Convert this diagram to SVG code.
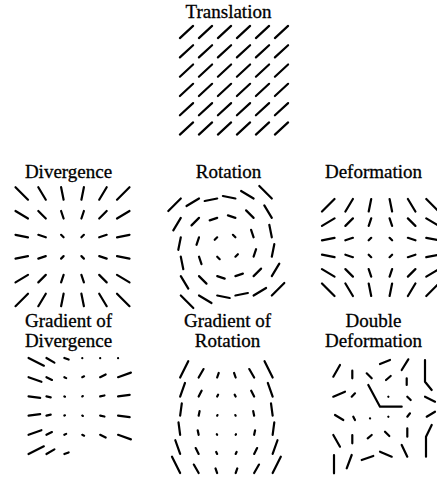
<svg xmlns="http://www.w3.org/2000/svg" width="437" height="477" viewBox="0 0 437 477">
<style>
text{font-family:"Liberation Serif","Times New Roman",serif;font-size:19px;fill:#000;stroke:#000;stroke-width:0.3;text-anchor:middle}
.f{fill:none;stroke:#000;stroke-width:2.2;stroke-linecap:round;stroke-linejoin:round}
</style>
<defs><path id="t" d="M-6.6,6.1L6.6,-6.1"/></defs>
<rect width="437" height="477" fill="#fff"/>
<g id="translation">
<text x="228.5" y="18">Translation</text>
<g class="f">
<use href="#t" x="186.5" y="32"/><use href="#t" x="205.5" y="32"/><use href="#t" x="224.5" y="32"/><use href="#t" x="243.5" y="32"/><use href="#t" x="262.5" y="32"/><use href="#t" x="281.5" y="32"/>
<use href="#t" x="186.5" y="51.3"/><use href="#t" x="205.5" y="51.3"/><use href="#t" x="224.5" y="51.3"/><use href="#t" x="243.5" y="51.3"/><use href="#t" x="262.5" y="51.3"/><use href="#t" x="281.5" y="51.3"/>
<use href="#t" x="186.5" y="70.6"/><use href="#t" x="205.5" y="70.6"/><use href="#t" x="224.5" y="70.6"/><use href="#t" x="243.5" y="70.6"/><use href="#t" x="262.5" y="70.6"/><use href="#t" x="281.5" y="70.6"/>
<use href="#t" x="186.5" y="89.9"/><use href="#t" x="205.5" y="89.9"/><use href="#t" x="224.5" y="89.9"/><use href="#t" x="243.5" y="89.9"/><use href="#t" x="262.5" y="89.9"/><use href="#t" x="281.5" y="89.9"/>
<use href="#t" x="186.5" y="109.2"/><use href="#t" x="205.5" y="109.2"/><use href="#t" x="224.5" y="109.2"/><use href="#t" x="243.5" y="109.2"/><use href="#t" x="262.5" y="109.2"/><use href="#t" x="281.5" y="109.2"/>
<use href="#t" x="186.5" y="128.5"/><use href="#t" x="205.5" y="128.5"/><use href="#t" x="224.5" y="128.5"/><use href="#t" x="243.5" y="128.5"/><use href="#t" x="262.5" y="128.5"/><use href="#t" x="281.5" y="128.5"/>
</g>
</g>
<g id="divergence">
<text x="68.5" y="177.5">Divergence</text>
<path class="f" d="M28,199.7L15.5,187.2M45.8,199.7L38.3,187.2M63.6,199.7L61.1,187.2M81.4,199.7L83.9,187.2M99.2,199.7L106.7,187.2M117,199.7L129.5,187.2
M28,218.5L15.5,211M45.8,218.5L38.3,211M63.6,218.5L61.1,211M81.4,218.5L83.9,211M99.2,218.5L106.7,211M117,218.5L129.5,211
M28,237.3L15.5,234.8M45.8,237.3L38.3,234.8M63.6,237.3L61.1,234.8M81.4,237.3L83.9,234.8M99.2,237.3L106.7,234.8M117,237.3L129.5,234.8
M28,256.1L15.5,258.6M45.8,256.1L38.3,258.6M63.6,256.1L61.1,258.6M81.4,256.1L83.9,258.6M99.2,256.1L106.7,258.6M117,256.1L129.5,258.6
M28,274.9L15.5,282.4M45.8,274.9L38.3,282.4M63.6,274.9L61.1,282.4M81.4,274.9L83.9,282.4M99.2,274.9L106.7,282.4M117,274.9L129.5,282.4
M28,293.7L15.5,306.2M45.8,293.7L38.3,306.2M63.6,293.7L61.1,306.2M81.4,293.7L83.9,306.2M99.2,293.7L106.7,306.2M117,293.7L129.5,306.2"/>
</g>
<g id="rotation">
<text x="228.5" y="177.5">Rotation</text>
<path class="f" d="M180.8,198.5L168.3,211M199,198.5L186.5,206M217.2,198.5L204.7,201M235.4,198.5L222.9,196M253.6,198.5L241.1,191M271.8,198.5L259.3,186
M180.8,217.9L173.3,230.4M199,217.9L191.5,225.4M217.2,217.9L209.7,220.4M235.4,217.9L227.9,215.4M253.6,217.9L246.1,210.4M271.8,217.9L264.3,205.4
M180.8,237.3L178.3,249.8M199,237.3L196.5,244.8M217.2,237.3L214.7,239.8M235.4,237.3L232.9,234.8M253.6,237.3L251.1,229.8M271.8,237.3L269.3,224.8
M180.8,256.7L183.3,269.2M199,256.7L201.5,264.2M217.2,256.7L219.7,259.2M235.4,256.7L237.9,254.2M253.6,256.7L256.1,249.2M271.8,256.7L274.3,244.2
M180.8,276.1L188.3,288.6M199,276.1L206.5,283.6M217.2,276.1L224.7,278.6M235.4,276.1L242.9,273.6M253.6,276.1L261.1,268.6M271.8,276.1L279.3,263.6
M180.8,295.5L193.3,308M199,295.5L211.5,303M217.2,295.5L229.7,298M235.4,295.5L247.9,293M253.6,295.5L266.1,288M271.8,295.5L284.3,283"/>
</g>
<g id="deformation">
<text x="373.5" y="177.5">Deformation</text>
<path class="f" d="M334.5,199L322,211.5M352.9,199L345.4,211.5M371.2,199L368.7,211.5M389.6,199L392.1,211.5M407.9,199L415.4,211.5M426.3,199L438.8,211.5
M334.5,218.4L322,225.9M352.9,218.4L345.4,225.9M371.2,218.4L368.7,225.9M389.6,218.4L392.1,225.9M407.9,218.4L415.4,225.9M426.3,218.4L438.8,225.9
M334.5,237.8L322,240.3M352.9,237.8L345.4,240.3M371.2,237.8L368.7,240.3M389.6,237.8L392.1,240.3M407.9,237.8L415.4,240.3M426.3,237.8L438.8,240.3
M334.5,257.2L322,254.7M352.9,257.2L345.4,254.7M371.2,257.2L368.7,254.7M389.6,257.2L392.1,254.7M407.9,257.2L415.4,254.7M426.3,257.2L438.8,254.7
M334.5,276.6L322,269.1M352.9,276.6L345.4,269.1M371.2,276.6L368.7,269.1M389.6,276.6L392.1,269.1M407.9,276.6L415.4,269.1M426.3,276.6L438.8,269.1
M334.5,296L322,283.5M352.9,296L345.4,283.5M371.2,296L368.7,283.5M389.6,296L392.1,283.5M407.9,296L415.4,283.5M426.3,296L438.8,283.5"/>
</g>
<g id="gradient-of-divergence">
<text x="68.5" y="327">Gradient of</text>
<text x="68.5" y="346.5">Divergence</text>
<path class="f" d="M28.55,358L43.86,365.66M46.45,358L54.41,362.59M64.35,358L68.64,359.53M82.25,358.2L82.3,358.2M100.15,358.2L100.2,358.2M118.05,358.2L118.1,358.2
M28.55,377.2L41.41,381.79M46.45,377.2L51.96,379.96M64.35,377.2L66.19,378.12M82.25,377.2L84.09,376.28M100.15,377.2L105.66,374.44M118.05,377.2L130.91,372.61
M28.55,396.4L40.19,397.93M46.45,396.4L50.74,397.32M64.35,396.4L64.96,396.71M82.25,396.4L82.86,396.09M100.15,396.4L104.44,395.48M118.05,396.4L129.69,394.87
M28.55,415.6L40.19,414.07M46.45,415.6L50.74,414.68M64.35,415.6L64.96,415.29M82.25,415.6L82.86,415.91M100.15,415.6L104.44,416.52M118.05,415.6L129.69,417.13
M28.55,434.8L41.41,430.21M46.45,434.8L51.96,432.04M64.35,434.8L66.19,433.88M82.25,434.8L84.09,435.72M100.15,434.8L105.66,437.56M118.05,434.8L130.91,439.39
M28.55,454L43.86,446.34M46.45,454L54.41,449.41M64.35,454L68.64,452.47"/>
</g>
<g id="gradient-of-rotation">
<text x="227.5" y="327">Gradient of</text>
<text x="227.5" y="346.5">Rotation</text>
<path class="f" d="M180.15,377.5L188.25,361.25M198.65,377.5L203.55,369.05M217.15,377.5L218.75,372.95M235.65,377.5L234.05,372.95M254.15,377.5L249.25,369.05M272.65,377.5L264.55,361.25
M180.15,396.6L185,382.95M198.65,396.6L201.6,390.75M217.15,396.6L218.1,394.65M235.65,396.6L234.7,394.65M254.15,396.6L251.2,390.75M272.65,396.6L267.8,382.95
M180.15,415.7L181.8,403.35M198.65,415.7L199.6,411.15M217.15,415.7L217.5,415.05M235.65,415.7L235.3,415.05M254.15,415.7L253.2,411.15M272.65,415.7L271,403.35
M180.15,434.8L178.5,422.45M198.65,434.8L197.7,430.25M217.15,434.8L216.8,434.15M235.65,434.8L236,434.15M254.15,434.8L255.1,430.25M272.65,434.8L274.3,422.45
M180.15,453.9L175.3,440.25M198.65,453.9L195.7,448.05M217.15,453.9L216.2,451.95M235.65,453.9L236.6,451.95M254.15,453.9L257.1,448.05M272.65,453.9L277.5,440.25
M180.15,473L172,456.75M198.65,473L193.8,464.55M217.15,473L215.5,468.45M235.65,473L237.3,468.45M254.15,473L259,464.55M272.65,473L280.8,456.75"/>
</g>
<g id="double-deformation">
<text x="373.5" y="327">Double</text>
<text x="373.5" y="346.5">Deformation</text>
<path class="f" d="M333.3,376.7L340,365M352.3,370.7L352.3,378.3M366.7,373.3L371.7,378.3M380,364L390,360M386,380L390.7,376M401.7,370L408.3,359.3M406.7,378.3L406.7,385M425,360L425,381.7L431.7,390
M333.3,396.7L345,391.7M351.7,396.7L355,393.3M368.3,385L380,406.7L401.7,406.7M388.3,396.7L388.4,396.8M407.3,396.7L410.7,400M425,396.7L435,401.7
M335,415L343.3,420M353.3,416.7L355,420M370,418.3L370.1,418.4M388.3,416.7L388.4,416.8M407.3,416.7L410,413.3M426.7,416.7L435,411.7
M333.3,435L340,446.7M352.3,435L352.3,443.3M367.7,438.3L371.7,435M385,431.7L389.3,436M407.3,428.3L407.3,436.7M431.7,425L426,436.7L426,456.7
M334,455L334,473.3M346.7,468.3L351.7,455M361.7,460L373.3,456M380,451.7L391.7,456.7M401.7,445L407.3,456.7"/>
</g>
</svg>
